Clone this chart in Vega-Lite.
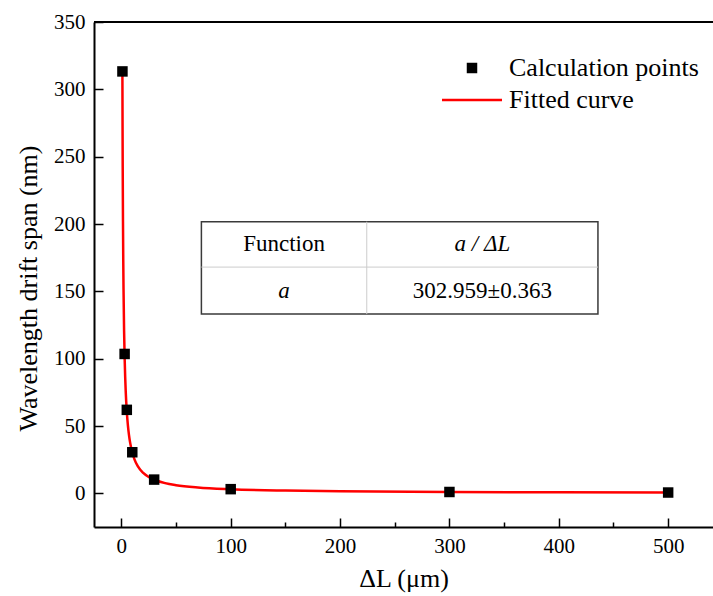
{
  "$schema": "https://vega.github.io/schema/vega-lite/v6.json",
  "width": 619,
  "height": 505,
  "autosize": "none",
  "padding": {"left": 94, "top": 22, "right": 0, "bottom": 69},
  "background": "white",
  "datasets": {
    "points": [
      {"dL": 1, "span": 313.3, "series": "Calculation points"},
      {"dL": 3, "span": 103.5, "series": "Calculation points"},
      {"dL": 5, "span": 62, "series": "Calculation points"},
      {"dL": 10, "span": 30.5, "series": "Calculation points"},
      {"dL": 30, "span": 10.2, "series": "Calculation points"},
      {"dL": 100, "span": 3.1, "series": "Calculation points"},
      {"dL": 300, "span": 1.0, "series": "Calculation points"},
      {"dL": 500, "span": 0.6, "series": "Calculation points"}
    ],
    "curve": [
      {"dL": 0.97, "span": 312.33, "series": "Fitted curve"},
      {"dL": 1, "span": 302.96, "series": "Fitted curve"},
      {"dL": 1.1, "span": 275.42, "series": "Fitted curve"},
      {"dL": 1.25, "span": 242.37, "series": "Fitted curve"},
      {"dL": 1.5, "span": 201.97, "series": "Fitted curve"},
      {"dL": 1.75, "span": 173.12, "series": "Fitted curve"},
      {"dL": 2, "span": 151.48, "series": "Fitted curve"},
      {"dL": 2.5, "span": 121.18, "series": "Fitted curve"},
      {"dL": 3, "span": 100.99, "series": "Fitted curve"},
      {"dL": 3.5, "span": 86.56, "series": "Fitted curve"},
      {"dL": 4, "span": 75.74, "series": "Fitted curve"},
      {"dL": 5, "span": 60.59, "series": "Fitted curve"},
      {"dL": 6, "span": 50.49, "series": "Fitted curve"},
      {"dL": 7, "span": 43.28, "series": "Fitted curve"},
      {"dL": 8, "span": 37.87, "series": "Fitted curve"},
      {"dL": 10, "span": 30.30, "series": "Fitted curve"},
      {"dL": 12, "span": 25.25, "series": "Fitted curve"},
      {"dL": 15, "span": 20.20, "series": "Fitted curve"},
      {"dL": 20, "span": 15.15, "series": "Fitted curve"},
      {"dL": 25, "span": 12.12, "series": "Fitted curve"},
      {"dL": 30, "span": 10.10, "series": "Fitted curve"},
      {"dL": 40, "span": 7.57, "series": "Fitted curve"},
      {"dL": 50, "span": 6.06, "series": "Fitted curve"},
      {"dL": 70, "span": 4.33, "series": "Fitted curve"},
      {"dL": 100, "span": 3.03, "series": "Fitted curve"},
      {"dL": 150, "span": 2.02, "series": "Fitted curve"},
      {"dL": 200, "span": 1.51, "series": "Fitted curve"},
      {"dL": 300, "span": 1.01, "series": "Fitted curve"},
      {"dL": 400, "span": 0.76, "series": "Fitted curve"},
      {"dL": 500, "span": 0.61, "series": "Fitted curve"}
    ],
    "one": [{"k": 1}]
  },
  "layer": [
    {
      "data": {"name": "one"},
      "mark": {"type": "rule", "color": "black", "strokeWidth": 2},
      "encoding": {"y": {"datum": 350, "type": "quantitative"}}
    },
    {
      "data": {"name": "one"},
      "mark": {"type": "rect", "fill": "white", "stroke": "#3a3a3a", "strokeWidth": 1.5},
      "encoding": {
        "x": {"datum": 73.2, "type": "quantitative"},
        "x2": {"datum": 435.8},
        "y": {"datum": 133.1, "type": "quantitative"},
        "y2": {"datum": 201.7}
      }
    },
    {
      "data": {"name": "one"},
      "mark": {"type": "rule", "color": "#cccccc", "strokeWidth": 1},
      "encoding": {
        "x": {"datum": 224.4, "type": "quantitative"},
        "y": {"datum": 133.1, "type": "quantitative"},
        "y2": {"datum": 201.7}
      }
    },
    {
      "data": {"name": "one"},
      "mark": {"type": "rule", "color": "#cccccc", "strokeWidth": 1},
      "encoding": {
        "y": {"datum": 168, "type": "quantitative"},
        "x": {"datum": 73.2, "type": "quantitative"},
        "x2": {"datum": 435.8}
      }
    },
    {
      "data": {"name": "one"},
      "mark": {"type": "text", "text": "Function", "font": "Liberation Serif", "fontSize": 23, "color": "black", "align": "center", "baseline": "middle"},
      "encoding": {"x": {"datum": 148.8, "type": "quantitative"}, "y": {"datum": 184.9, "type": "quantitative"}}
    },
    {
      "data": {"name": "one"},
      "mark": {"type": "text", "text": "a / ΔL", "font": "Liberation Serif", "fontStyle": "italic", "fontSize": 23, "color": "black", "align": "center", "baseline": "middle"},
      "encoding": {"x": {"datum": 330.1, "type": "quantitative"}, "y": {"datum": 184.9, "type": "quantitative"}}
    },
    {
      "data": {"name": "one"},
      "mark": {"type": "text", "text": "a", "font": "Liberation Serif", "fontStyle": "italic", "fontSize": 23, "color": "black", "align": "center", "baseline": "middle"},
      "encoding": {"x": {"datum": 148.8, "type": "quantitative"}, "y": {"datum": 150.6, "type": "quantitative"}}
    },
    {
      "data": {"name": "one"},
      "mark": {"type": "text", "text": "302.959±0.363", "font": "Liberation Serif", "fontSize": 23, "color": "black", "align": "center", "baseline": "middle"},
      "encoding": {"x": {"datum": 330.1, "type": "quantitative"}, "y": {"datum": 150.6, "type": "quantitative"}}
    },
    {
      "data": {"name": "curve"},
      "mark": {"type": "line", "strokeWidth": 2.5, "interpolate": "monotone"},
      "encoding": {
        "x": {
          "field": "dL", "type": "quantitative",
          "scale": {"domain": [-25, 541], "nice": false, "zero": false},
          "axis": {
            "title": "ΔL (μm)",
            "values": [0, 50, 100, 150, 200, 250, 300, 350, 400, 450, 500],
            "labelExpr": "datum.value % 100 === 0 ? datum.label : ''",
            "tickSize": {"condition": {"test": "datum.value % 100 === 0", "value": -9}, "value": -5}
          }
        },
        "y": {
          "field": "span", "type": "quantitative",
          "scale": {"domain": [-25, 350], "nice": false, "zero": false},
          "axis": {
            "title": "Wavelength drift span (nm)",
            "titleY": 266,
            "values": [0, 25, 50, 75, 100, 125, 150, 175, 200, 225, 250, 275, 300, 325, 350],
            "labelExpr": "datum.value % 50 === 0 ? datum.label : ''",
            "tickSize": {"condition": {"test": "datum.value % 50 === 0", "value": -9}, "value": -5}
          }
        },
        "color": {
          "field": "series", "type": "nominal",
          "scale": {"domain": ["Calculation points", "Fitted curve"], "range": ["black", "#ff0000"]},
          "legend": {
            "title": null,
            "orient": "none",
            "legendX": 348,
            "legendY": 33,
            "labelOffset": 7,
            "rowPadding": 6,
            "padding": 0,
            "labelFont": "Liberation Serif",
            "labelFontSize": 26,
            "labelColor": "black",
            "labelLimit": 400,
            "encode": {
              "symbols": {
                "update": {
                  "x": {"value": 30},
                  "y": {"value": 13},
                  "stroke": {"scale": "color", "field": "value"},
                  "strokeWidth": {"signal": "datum.value === 'Fitted curve' ? 2.5 : 0"}
                }
              },
              "labels": {
                "update": {
                  "x": {"value": 67},
                  "y": {"value": 13}
                }
              }
            }
          }
        }
      }
    },
    {
      "data": {"name": "points"},
      "mark": {"type": "point", "filled": true, "opacity": 1},
      "encoding": {
        "x": {"field": "dL", "type": "quantitative", "title": "ΔL (μm)"},
        "y": {"field": "span", "type": "quantitative", "title": "Wavelength drift span (nm)"},
        "color": {"field": "series", "type": "nominal"},
        "shape": {
          "field": "series", "type": "nominal",
          "scale": {"domain": ["Calculation points", "Fitted curve"], "range": ["square", "stroke"]}
        },
        "size": {
          "field": "series", "type": "nominal",
          "scale": {"type": "point", "padding": 0, "domain": ["Calculation points", "Fitted curve"], "range": [110, 3600]}
        }
      }
    }
  ],
  "config": {
    "view": {"stroke": null},
    "axis": {
      "grid": false,
      "domainColor": "black",
      "domainWidth": 2,
      "tickColor": "black",
      "tickWidth": 1.5,
      "labelFont": "Liberation Serif",
      "labelFontSize": 21,
      "labelColor": "black",
      "titleFont": "Liberation Serif",
      "titleFontSize": 26,
      "titleFontWeight": "normal",
      "titleColor": "black"
    },
    "axisX": {"labelPadding": 17, "titlePadding": 5, "labelFlush": false, "labelOverlap": false},
    "axisY": {"labelPadding": 18, "titlePadding": 12, "labelOverlap": false}
  }
}
